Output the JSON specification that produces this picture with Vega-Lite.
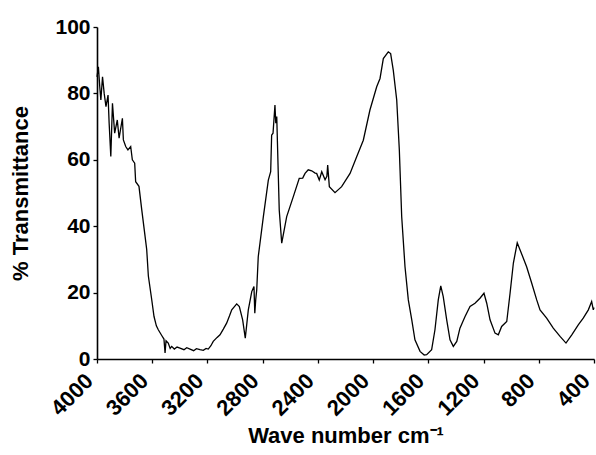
{
  "$schema": "https://vega.github.io/schema/vega-lite/v6.json",
  "width": 497,
  "height": 332,
  "autosize": {"type": "none"},
  "padding": {"left": 97, "top": 27, "right": 2, "bottom": 96},
  "background": "white",
  "config": {"view": {"stroke": null}},
  "data": {"values": [
    {"wn": 4000, "T": 85}, {"wn": 3990, "T": 88}, {"wn": 3980, "T": 82}, {"wn": 3972, "T": 78},
    {"wn": 3960, "T": 85}, {"wn": 3948, "T": 80}, {"wn": 3935, "T": 76}, {"wn": 3920, "T": 79.5},
    {"wn": 3912, "T": 71}, {"wn": 3900, "T": 61}, {"wn": 3888, "T": 77}, {"wn": 3872, "T": 68},
    {"wn": 3853, "T": 72}, {"wn": 3840, "T": 66.5}, {"wn": 3816, "T": 72.5}, {"wn": 3809, "T": 66},
    {"wn": 3792, "T": 64}, {"wn": 3776, "T": 63}, {"wn": 3756, "T": 64}, {"wn": 3744, "T": 60},
    {"wn": 3727, "T": 59}, {"wn": 3720, "T": 53.4}, {"wn": 3696, "T": 52}, {"wn": 3676, "T": 45},
    {"wn": 3652, "T": 37}, {"wn": 3640, "T": 33}, {"wn": 3628, "T": 25}, {"wn": 3604, "T": 18},
    {"wn": 3587, "T": 12.8}, {"wn": 3570, "T": 10}, {"wn": 3556, "T": 8.8}, {"wn": 3530, "T": 7},
    {"wn": 3515, "T": 6}, {"wn": 3507, "T": 1.8}, {"wn": 3500, "T": 5.5}, {"wn": 3484, "T": 4.8},
    {"wn": 3470, "T": 3.2}, {"wn": 3459, "T": 3.8}, {"wn": 3440, "T": 3}, {"wn": 3420, "T": 3.6},
    {"wn": 3399, "T": 3.3}, {"wn": 3370, "T": 2.8}, {"wn": 3350, "T": 3.4}, {"wn": 3326, "T": 3},
    {"wn": 3300, "T": 2.5}, {"wn": 3280, "T": 3.1}, {"wn": 3254, "T": 2.8}, {"wn": 3230, "T": 2.6},
    {"wn": 3210, "T": 3.2}, {"wn": 3194, "T": 3}, {"wn": 3175, "T": 4}, {"wn": 3158, "T": 5.3},
    {"wn": 3130, "T": 6.5}, {"wn": 3109, "T": 7.3}, {"wn": 3085, "T": 9}, {"wn": 3061, "T": 10.8},
    {"wn": 3040, "T": 13}, {"wn": 3024, "T": 14.8}, {"wn": 2988, "T": 16.6}, {"wn": 2969, "T": 15.8},
    {"wn": 2945, "T": 11.8}, {"wn": 2926, "T": 6.3}, {"wn": 2904, "T": 14.8}, {"wn": 2879, "T": 20.3},
    {"wn": 2863, "T": 21.8}, {"wn": 2857, "T": 13.8}, {"wn": 2850, "T": 18}, {"wn": 2843, "T": 20.8},
    {"wn": 2832, "T": 30.8}, {"wn": 2795, "T": 42.9}, {"wn": 2759, "T": 53.9}, {"wn": 2742, "T": 56.4},
    {"wn": 2735, "T": 67.4}, {"wn": 2725, "T": 68}, {"wn": 2711, "T": 76.5}, {"wn": 2705, "T": 71},
    {"wn": 2698, "T": 73}, {"wn": 2680, "T": 44.9}, {"wn": 2662, "T": 34.9}, {"wn": 2626, "T": 42.9},
    {"wn": 2578, "T": 48.9}, {"wn": 2535, "T": 54.4}, {"wn": 2510, "T": 54.5}, {"wn": 2493, "T": 55.9},
    {"wn": 2470, "T": 57}, {"wn": 2445, "T": 56.7}, {"wn": 2420, "T": 56}, {"wn": 2409, "T": 55.9},
    {"wn": 2390, "T": 53.9}, {"wn": 2372, "T": 56.4}, {"wn": 2348, "T": 54}, {"wn": 2335, "T": 55},
    {"wn": 2329, "T": 58.4}, {"wn": 2317, "T": 51.9}, {"wn": 2276, "T": 50.1}, {"wn": 2228, "T": 51.9},
    {"wn": 2167, "T": 55.9}, {"wn": 2119, "T": 60.9}, {"wn": 2071, "T": 65.9}, {"wn": 2023, "T": 75},
    {"wn": 1974, "T": 82}, {"wn": 1950, "T": 84.5}, {"wn": 1926, "T": 90.5}, {"wn": 1890, "T": 92.5},
    {"wn": 1873, "T": 92}, {"wn": 1854, "T": 87}, {"wn": 1829, "T": 78}, {"wn": 1810, "T": 62.9},
    {"wn": 1793, "T": 42.9}, {"wn": 1769, "T": 27.8}, {"wn": 1745, "T": 17.8}, {"wn": 1720, "T": 11.8},
    {"wn": 1697, "T": 5.8}, {"wn": 1660, "T": 2.3}, {"wn": 1630, "T": 1.2}, {"wn": 1612, "T": 1.3},
    {"wn": 1576, "T": 2.8}, {"wn": 1552, "T": 8.8}, {"wn": 1528, "T": 17.8}, {"wn": 1510, "T": 22},
    {"wn": 1492, "T": 18.8}, {"wn": 1467, "T": 11.8}, {"wn": 1443, "T": 5.8}, {"wn": 1419, "T": 3.8},
    {"wn": 1394, "T": 5.3}, {"wn": 1371, "T": 9.3}, {"wn": 1334, "T": 12.8}, {"wn": 1298, "T": 15.8},
    {"wn": 1262, "T": 16.8}, {"wn": 1226, "T": 18.3}, {"wn": 1197, "T": 19.8}, {"wn": 1177, "T": 16.8},
    {"wn": 1153, "T": 11.8}, {"wn": 1117, "T": 7.8}, {"wn": 1093, "T": 7.3}, {"wn": 1069, "T": 9.8},
    {"wn": 1032, "T": 11.3}, {"wn": 1008, "T": 19.8}, {"wn": 984, "T": 28.9}, {"wn": 956, "T": 35},
    {"wn": 931, "T": 32.4}, {"wn": 888, "T": 27.8}, {"wn": 851, "T": 22.8}, {"wn": 815, "T": 17.8},
    {"wn": 791, "T": 14.8}, {"wn": 743, "T": 12.3}, {"wn": 695, "T": 9.3}, {"wn": 646, "T": 6.8},
    {"wn": 603, "T": 4.8}, {"wn": 561, "T": 7.3}, {"wn": 514, "T": 10.3}, {"wn": 478, "T": 12.3},
    {"wn": 441, "T": 14.8}, {"wn": 417, "T": 17.3}, {"wn": 405, "T": 14.8}, {"wn": 400, "T": 15.5}
  ]},
  "mark": {"type": "line", "color": "black", "strokeWidth": 1.3, "interpolate": "linear"},
  "encoding": {
    "x": {
      "field": "wn", "type": "quantitative",
      "scale": {"domain": [4000, 400], "nice": false, "zero": false},
      "axis": {
        "values": [4000, 3600, 3200, 2800, 2400, 2000, 1600, 1200, 800, 400],
        "format": "d",
        "title": "Wave number cm\u207B\u00B9",
        "grid": false, "labelAngle": -45, "labelBaseline": "middle", "labelAlign": "right",
        "labelFont": "Liberation Sans", "labelFontWeight": "bold",
        "labelFontSize": 22, "labelColor": "black", "labelPadding": 14, "labelOffset": -8,
        "titleFont": "Liberation Sans", "titleFontWeight": "bold", "titleFontSize": 22,
        "titleColor": "black", "titlePadding": 6,
        "domainColor": "black", "domainWidth": 1.6, "tickColor": "black", "tickWidth": 1.3, "tickSize": 4,
        "labelOverlap": false, "labelFlush": false
      }
    },
    "y": {
      "field": "T", "type": "quantitative",
      "scale": {"domain": [0, 100], "nice": false},
      "axis": {
        "values": [0, 20, 40, 60, 80, 100],
        "title": "% Transmittance",
        "grid": false, "labelFont": "Liberation Sans", "labelFontWeight": "bold",
        "labelFontSize": 21, "labelColor": "black", "labelPadding": 3,
        "titleFont": "Liberation Sans", "titleFontWeight": "bold", "titleFontSize": 22,
        "titleColor": "black", "titlePadding": 22,
        "domainColor": "black", "domainWidth": 1.6, "tickColor": "black", "tickWidth": 1.3, "tickSize": 4,
        "labelFlush": false
      }
    }
  }
}
